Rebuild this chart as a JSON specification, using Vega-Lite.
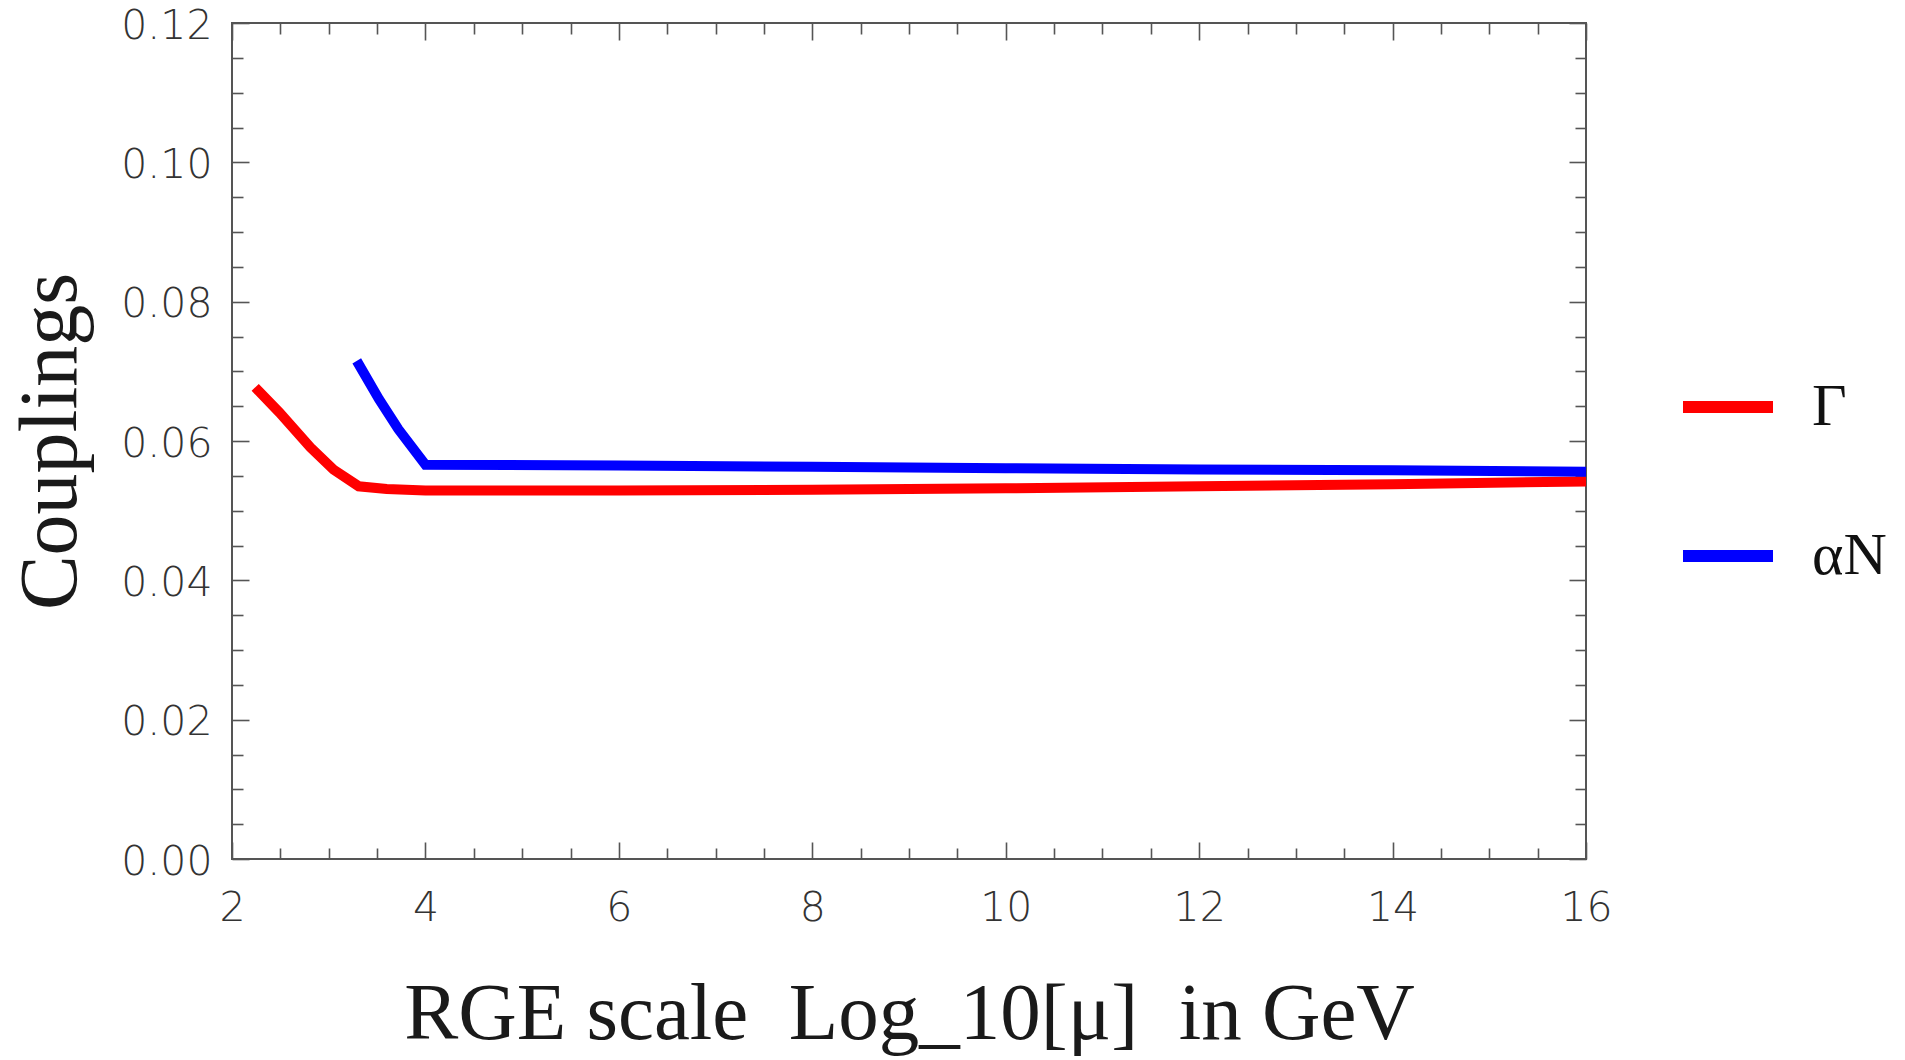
{
  "$schema": "https://vega.github.io/schema/vega-lite/v6.json",
  "autosize": "none",
  "width": 1354,
  "height": 836,
  "padding": {"left": 232, "top": 23, "right": 319, "bottom": 201},
  "background": "white",
  "config": {
    "view": {"stroke": "#555555", "strokeWidth": 2},
    "axis": {
      "domain": false,
      "grid": false,
      "tickColor": "#555555",
      "tickWidth": 1.6,
      "labelFont": "DejaVu Sans",
      "labelFontWeight": 200,
      "labelFontSize": 41,
      "labelColor": "#333333",
      "titleFont": "Liberation Serif",
      "titleFontWeight": "normal",
      "titleColor": "#1a1a1a"
    },
    "legend": {
      "labelFont": "Liberation Serif",
      "labelFontSize": 60,
      "labelColor": "#111111"
    }
  },
  "data": {
    "values": [
      {"x": 2.24, "y": 0.0677, "series": "Γ"},
      {"x": 2.49, "y": 0.0641, "series": "Γ"},
      {"x": 2.81, "y": 0.0591, "series": "Γ"},
      {"x": 3.05, "y": 0.0559, "series": "Γ"},
      {"x": 3.31, "y": 0.0535, "series": "Γ"},
      {"x": 3.6, "y": 0.0531, "series": "Γ"},
      {"x": 4.0, "y": 0.0529, "series": "Γ"},
      {"x": 6.0, "y": 0.0529, "series": "Γ"},
      {"x": 8.0, "y": 0.0530, "series": "Γ"},
      {"x": 10.0, "y": 0.0532, "series": "Γ"},
      {"x": 12.0, "y": 0.0535, "series": "Γ"},
      {"x": 14.0, "y": 0.0538, "series": "Γ"},
      {"x": 16.0, "y": 0.0542, "series": "Γ"},
      {"x": 3.29, "y": 0.0715, "series": "αN"},
      {"x": 3.52, "y": 0.0660, "series": "αN"},
      {"x": 3.72, "y": 0.0617, "series": "αN"},
      {"x": 4.0, "y": 0.0566, "series": "αN"},
      {"x": 6.0, "y": 0.0565, "series": "αN"},
      {"x": 8.0, "y": 0.0563, "series": "αN"},
      {"x": 10.0, "y": 0.0561, "series": "αN"},
      {"x": 12.0, "y": 0.0559, "series": "αN"},
      {"x": 14.0, "y": 0.0558, "series": "αN"},
      {"x": 16.0, "y": 0.0556, "series": "αN"}
    ]
  },
  "layer": [
    {
      "transform": [{"filter": "datum.series === 'Γ'"}],
      "mark": {"type": "line", "strokeWidth": 10, "clip": false},
      "encoding": {
        "x": {
          "field": "x", "type": "quantitative",
          "scale": {"domain": [2, 16], "nice": false, "zero": false},
          "axis": {
            "orient": "bottom",
            "title": "RGE scale\u00a0 Log_10[μ]\u00a0 in GeV",
            "titleFontSize": 81,
            "titlePadding": 40,
            "values": [2,2.5,3,3.5,4,4.5,5,5.5,6,6.5,7,7.5,8,8.5,9,9.5,10,10.5,11,11.5,12,12.5,13,13.5,14,14.5,15,15.5,16],
            "format": "~g",
            "tickSize": {"condition": {"test": "datum.value % 2 === 0", "value": -17}, "value": -11},
            "labelExpr": "datum.value % 2 === 0 ? datum.label : ''",
            "labelPadding": 46,
            "labelFlush": false,
            "labelOverlap": false
          }
        },
        "y": {
          "field": "y", "type": "quantitative",
          "scale": {"domain": [0, 0.12], "nice": false, "zero": false},
          "axis": {
            "orient": "left",
            "title": "Couplings",
            "titleFontSize": 82,
            "titlePadding": 28,
            "values": [0,0.005,0.01,0.015,0.02,0.025,0.03,0.035,0.04,0.045,0.05,0.055,0.06,0.065,0.07,0.075,0.08,0.085,0.09,0.095,0.1,0.105,0.11,0.115,0.12],
            "format": ".2f",
            "tickSize": {"condition": {"test": "round(datum.value * 1000) % 20 === 0", "value": -17}, "value": -11},
            "labelExpr": "round(datum.value * 1000) % 20 === 0 ? datum.label : ''",
            "labelPadding": 37,
            "labelOffset": 3,
            "labelFlush": false,
            "labelOverlap": false
          }
        },
        "color": {
          "field": "series", "type": "nominal",
          "scale": {"domain": ["Γ", "αN"], "range": ["#ff0000", "#0000ff"]},
          "legend": {
            "title": null,
            "orient": "none",
            "legendX": 1445,
            "legendY": 333,
            "padding": 0,
            "symbolType": "stroke",
            "symbolSize": 8100,
            "symbolStrokeWidth": 12,
            "labelOffset": 33,
            "rowPadding": 68
          }
        }
      }
    },
    {
      "transform": [{"filter": "datum.series === 'αN'"}],
      "mark": {"type": "line", "strokeWidth": 10, "clip": false},
      "encoding": {
        "x": {
          "field": "x", "type": "quantitative",
          "axis": {
            "orient": "top",
            "title": null,
            "labels": false,
            "values": [2,2.5,3,3.5,4,4.5,5,5.5,6,6.5,7,7.5,8,8.5,9,9.5,10,10.5,11,11.5,12,12.5,13,13.5,14,14.5,15,15.5,16],
            "tickSize": {"condition": {"test": "datum.value % 2 === 0", "value": -17}, "value": -11}
          }
        },
        "y": {
          "field": "y", "type": "quantitative",
          "axis": {
            "orient": "right",
            "title": null,
            "labels": false,
            "values": [0,0.005,0.01,0.015,0.02,0.025,0.03,0.035,0.04,0.045,0.05,0.055,0.06,0.065,0.07,0.075,0.08,0.085,0.09,0.095,0.1,0.105,0.11,0.115,0.12],
            "tickSize": {"condition": {"test": "round(datum.value * 1000) % 20 === 0", "value": -17}, "value": -11}
          }
        },
        "color": {"field": "series", "type": "nominal"}
      }
    }
  ],
  "resolve": {"axis": {"x": "independent", "y": "independent"}}
}
